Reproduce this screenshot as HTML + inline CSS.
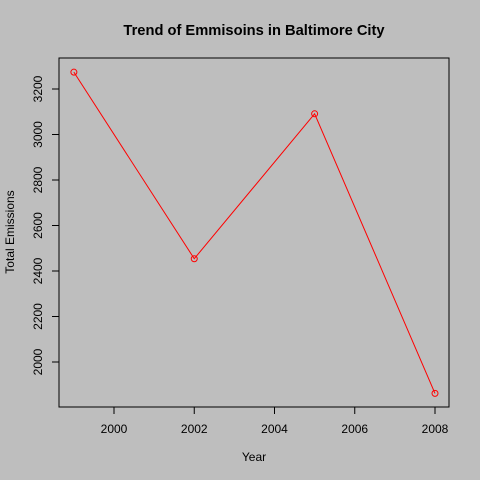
<!DOCTYPE html>
<html><head><meta charset="utf-8"><style>body{margin:0;background:#bebebe}svg{display:block}text{font-family:"Liberation Sans",sans-serif;fill:#000}</style></head>
<body>
<svg width="480" height="480">
<rect width="480" height="480" fill="#bebebe"/>
<g id="g"></g>
</svg>
<script>
const years = [1999, 2002, 2005, 2008];
const emissions = [3274, 2454, 3091, 1862];
const xTicks = [2000, 2002, 2004, 2006, 2008];
const yTicks = [2000, 2200, 2400, 2600, 2800, 3000, 3200];
const L=59,R=449,T=58,B=407;
function sx(v){return 114+(v-2000)*40.125;}
function sy(v){return 362-(v-2000)*0.2275;}
const g=document.getElementById('g');const NS='http://www.w3.org/2000/svg';
function mk(t,a,txt){const e=document.createElementNS(NS,t);for(const k in a)e.setAttribute(k,a[k]);if(txt!==undefined)e.textContent=txt;g.appendChild(e);return e;}
let e;
e=mk('rect',{x:L,y:T,width:R-L,height:B-T,fill:'none',stroke:'#000'});


xTicks.forEach(v=>{const x=sx(v);
e=mk('line',{x1:x,x2:x,y1:B,y2:B+7,stroke:'#000'});


e=mk('text',{x:x,y:B+26,'font-size':12,'text-anchor':'middle'},v);

});
yTicks.forEach(v=>{const y=sy(v);
e=mk('line',{x1:L-7,x2:L,y1:y,y2:y,stroke:'#000'});


e=mk('text',{x:42,y:y,'font-size':12,'text-anchor':'middle',transform:`rotate(-90 42 ${y})`},v);

});
e=mk('polyline',{points:years.map((y,i)=>sx(y)+','+sy(emissions[i])).join(' '),fill:'none',stroke:'#ff0000'});


years.forEach((y,i)=>{e=mk('circle',{cx:sx(y),cy:sy(emissions[i]),r:3,fill:'none',stroke:'#ff0000'});

});
e=mk('text',{x:254,y:35,'font-size':14.7,'font-weight':'bold','text-anchor':'middle'},'Trend of Emmisoins in Baltimore City');


e=mk('text',{x:254,y:461,'font-size':12,'text-anchor':'middle'},'Year');


e=mk('text',{x:14,y:232,'font-size':12,'text-anchor':'middle',transform:'rotate(-90 14 232)'},'Total Emissions');


</script>
</body></html>
